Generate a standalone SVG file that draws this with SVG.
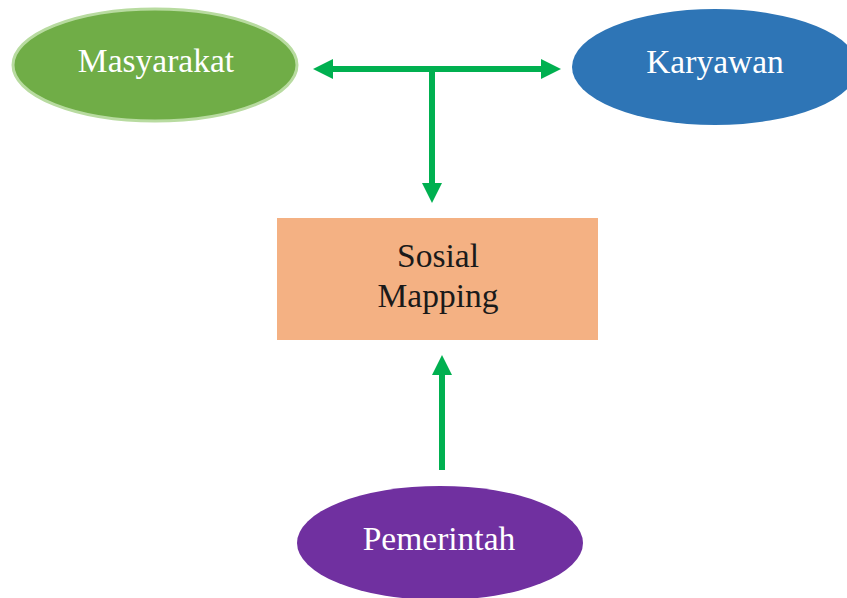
<svg xmlns="http://www.w3.org/2000/svg" width="847" height="598" viewBox="0 0 847 598">
<style>
.lbl{font-family:"Liberation Serif","Times New Roman",serif;font-size:33.5px;text-anchor:middle}
.w{fill:#ffffff}
.k{fill:#1a1a1a}
.con{stroke:#00b050;stroke-width:6;fill:none}
</style>
<defs>
<marker id="ah" viewBox="0 0 20 20" refX="10" refY="10" markerWidth="20" markerHeight="20" markerUnits="userSpaceOnUse" orient="auto-start-reverse">
<path d="M0,0 L20,10 L0,20 z" fill="#00b050"/>
</marker>
</defs>
<rect width="847" height="598" fill="#ffffff"/>
<g id="masyarakat">
<ellipse cx="155" cy="65" rx="142" ry="56" fill="#70ad47" stroke="#b8dba0" stroke-width="3"/>
<text class="lbl w" x="156" y="72">Masyarakat</text>
</g>
<g id="karyawan">
<ellipse cx="715" cy="67" rx="143" ry="58" fill="#2e75b6"/>
<text class="lbl w" x="715" y="73">Karyawan</text>
</g>
<g id="sosial-mapping">
<rect x="277" y="218" width="321" height="122" fill="#f4b183"/>
<text class="lbl k" x="438" y="267">Sosial</text>
<text class="lbl k" x="438" y="307">Mapping</text>
</g>
<g id="pemerintah">
<ellipse cx="440" cy="543" rx="143" ry="57" fill="#7030a0"/>
<text class="lbl w" x="439" y="550">Pemerintah</text>
</g>
<g id="connectors">
<line class="con" x1="323" y1="69" x2="551" y2="69" marker-start="url(#ah)" marker-end="url(#ah)"/>
<line class="con" x1="432" y1="66" x2="432" y2="193" marker-end="url(#ah)"/>
<line class="con" x1="442" y1="470" x2="442" y2="365" marker-end="url(#ah)"/>
</g>
</svg>
